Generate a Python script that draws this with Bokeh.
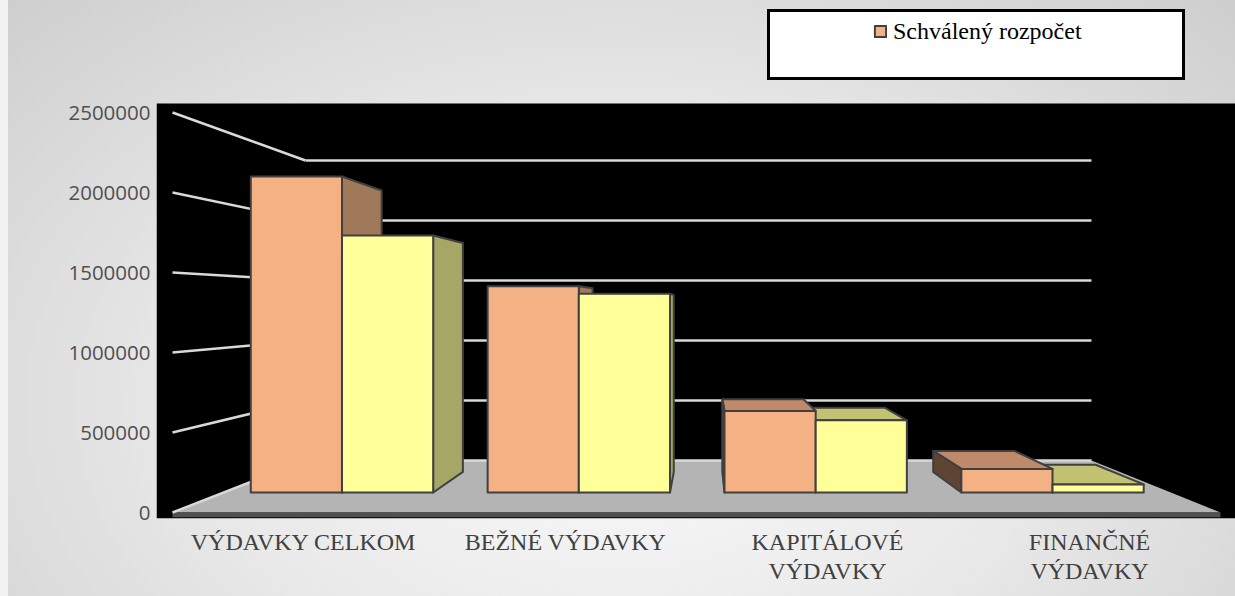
from bokeh.plotting import figure
from bokeh.models import FixedTicker, Range1d, Legend, LegendItem
from bokeh.core.properties import value
from bokeh.embed import file_html
from bokeh.resources import INLINE

# ---------------- data ----------------
categories = ["VÝDAVKY CELKOM", "BEŽNÉ VÝDAVKY", "KAPITÁLOVÉ\nVÝDAVKY", "FINANČNÉ\nVÝDAVKY"]
schvaleny = [2185000, 1426000, 564000, 163000]
druha_seria = [1777000, 1374000, 499000, 56000]
y_ticks = [0, 500000, 1000000, 1500000, 2000000, 2500000]
y_tick_labels = ["0", "500000", "1000000", "1500000", "2000000", "2500000"]
legend_label = "Schválený rozpočet"

# ---------------- 3D projection (data units of the front plane) ----------------
XV, YV = 2.03, 1300000.0      # vanishing point
S_WALL = 0.75                 # scale of the back wall
S_F, S_B = 0.904, 0.805       # scale of bar front / back faces
BAR_W = 0.385
N = len(categories)

PX_X = 262.0                  # px per category unit
PX_Y = 160.0 / 1e6            # px per value unit
X0 = -16 / PX_X
Y0 = -6 / PX_Y
FRAME_W, FRAME_H = 1079, 518
PANEL_TOP = 2500000 + 9 / PX_Y


def proj(x, y, s):
    return XV + (x - XV) * s, YV + (y - YV) * s


def poly(pts):
    xs, ys = [], []
    for x, y, s in pts:
        px, py = proj(x, y, s)
        xs.append(px)
        ys.append(py)
    return xs, ys


# colours
OR_FRONT, OR_TOP, OR_RSIDE, OR_LSIDE = "#F4B183", "#BF8A69", "#A0785A", "#5E4433"
YE_FRONT, YE_TOP, YE_RSIDE, YE_LSIDE = "#FFFF99", "#C2C272", "#A6A666", "#7A7A48"
EDGE = "#404040"

p = figure(width=1235, height=596,
           x_range=Range1d(X0, X0 + FRAME_W / PX_X),
           y_range=Range1d(Y0, Y0 + FRAME_H / PX_Y),
           output_backend="svg", toolbar_location=None,
           min_border_left=156, min_border_right=0, min_border_top=0, min_border_bottom=78)
p.background_fill_color = None
p.border_fill_color = None
p.outline_line_color = None
p.styles = {"background": "linear-gradient(to right, #f2f2f2 0px, #f2f2f2 8px, rgba(0,0,0,0) 8px), "
                          "radial-gradient(ellipse 80% 110% at 50% 68%, #fbfbfb 0%, #e9e9e9 42%, #c7c7c7 100%)"}
p.xgrid.visible = False
p.ygrid.visible = False

# black chart area
p.quad(left=[X0], right=[X0 + FRAME_W / PX_X], bottom=[Y0], top=[PANEL_TOP],
       fill_color="black", line_color=None)

# floor
fx, fy = poly([(0, 0, 1), (N, 0, 1), (N, 0, S_WALL), (0, 0, S_WALL)])
p.patch(fx, fy, fill_color="#b4b4b4", line_color=None)
sx, sy = poly([(0, 0, 1), (N, 0, 1), (N, -30000, 1), (0, -30000, 1)])
p.patch(sx, sy, fill_color="#505050", line_color=None)

# gridlines on back wall and left wall
bx, by, lx, ly = [], [], [], []
for v in y_ticks:
    a = proj(0, v, S_WALL)
    b = proj(N, v, S_WALL)
    f = proj(0, v, 1)
    bx.append([a[0], b[0]])
    by.append([a[1], b[1]])
    lx.append([f[0], a[0]])
    ly.append([f[1], a[1]])
p.multi_line(bx, by, line_color="#d9d9d9", line_width=2.5)
p.multi_line(lx, ly, line_color="#d9d9d9", line_width=2.5)

# bars
boxes = []
for i in range(N):
    c = i + 0.5
    boxes.append((c - BAR_W, c, schvaleny[i], OR_TOP, OR_RSIDE, OR_LSIDE, 0))
    boxes.append((c, c + BAR_W, druha_seria[i], YE_TOP, YE_RSIDE, YE_LSIDE, 1))
boxes.sort(key=lambda b: -abs((b[0] + b[1]) / 2 - XV))

back_xs, back_ys, back_col = [], [], []
for x0, x1, v, ctop, cr, cl, _ in boxes:
    if v < YV:
        xs, ys = poly([(x0, v, S_F), (x1, v, S_F), (x1, v, S_B), (x0, v, S_B)])
        back_xs.append(xs); back_ys.append(ys); back_col.append(ctop)
    if x1 < XV:
        xs, ys = poly([(x1, 0, S_F), (x1, 0, S_B), (x1, v, S_B), (x1, v, S_F)])
        back_xs.append(xs); back_ys.append(ys); back_col.append(cr)
    if x0 > XV:
        xs, ys = poly([(x0, 0, S_F), (x0, 0, S_B), (x0, v, S_B), (x0, v, S_F)])
        back_xs.append(xs); back_ys.append(ys); back_col.append(cl)
p.patches(back_xs, back_ys, fill_color=back_col, line_color=EDGE, line_width=2, line_join="round")

front = {0: ([], []), 1: ([], [])}
for x0, x1, v, *_rest in boxes:
    k = _rest[-1]
    xs, ys = poly([(x0, 0, S_F), (x1, 0, S_F), (x1, v, S_F), (x0, v, S_F)])
    front[k][0].append(xs)
    front[k][1].append(ys)
or_r = p.patches(front[0][0], front[0][1], fill_color=OR_FRONT, line_color=EDGE, line_width=2, line_join="round")
p.patches(front[1][0], front[1][1], fill_color=YE_FRONT, line_color=EDGE, line_width=2, line_join="round")

# axes
p.yaxis.ticker = FixedTicker(ticks=y_ticks)
p.yaxis.major_label_overrides = {t: l for t, l in zip(y_ticks, y_tick_labels)}
p.yaxis.axis_line_color = None
p.yaxis.major_tick_line_color = None
p.yaxis.minor_tick_line_color = None
p.yaxis.major_tick_out = 0
p.yaxis.major_tick_in = 0
p.yaxis.major_label_standoff = 6
p.yaxis.major_label_text_font = "Open Sans"
p.yaxis.major_label_text_font_size = "20.5px"
p.yaxis.major_label_text_color = "#505050"

xt = [i + 0.5 for i in range(N)]
p.xaxis.ticker = FixedTicker(ticks=xt)
p.xaxis.major_label_overrides = {t: l for t, l in zip(xt, categories)}
p.xaxis.axis_line_color = None
p.xaxis.major_tick_line_color = None
p.xaxis.minor_tick_line_color = None
p.xaxis.major_tick_out = 0
p.xaxis.major_tick_in = 0
p.xaxis.major_label_standoff = 10
p.xaxis.major_label_text_font = "Liberation Serif"
p.xaxis.major_label_text_font_size = "24px"
p.xaxis.major_label_text_color = "#404040"
p.xaxis.major_label_text_line_height = 1.12

# legend box + legend entry
dummy = p.quad(left=[], right=[], top=[], bottom=[], fill_alpha=0, line_alpha=0)
box_legend = Legend(items=[LegendItem(label=value(" "), renderers=[dummy])],
                    location=(610.5, 438.5), padding=0, margin=0, spacing=0,
                    glyph_width=12, glyph_height=12, label_standoff=0,
                    label_width=400, label_height=65, label_text_font_size="1px",
                    border_line_color="black", border_line_width=3, border_line_alpha=1.0,
                    background_fill_color="white", background_fill_alpha=1)
p.add_layout(box_legend)
legend = Legend(items=[LegendItem(label=value(legend_label), renderers=[or_r])],
                location=(717, 472), padding=0, margin=0, spacing=0,
                glyph_width=14, glyph_height=14, label_standoff=6, label_height=30,
                label_text_font="Liberation Serif", label_text_font_size="24px",
                label_text_color="black", border_line_color=None, background_fill_alpha=0)
p.add_layout(legend)

open("out.html", "w").write(file_html(p, INLINE))
